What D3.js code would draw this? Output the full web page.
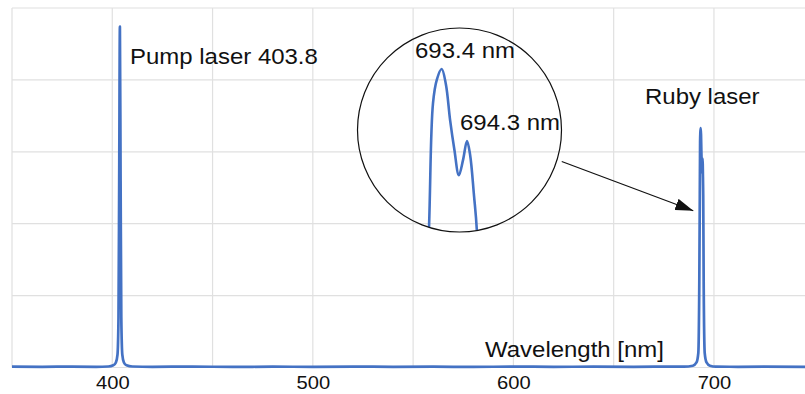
<!DOCTYPE html>
<html lang="en">
<head>
  <meta charset="UTF-8" />
  <title>Ruby laser spectrum</title>
  <script src="https://d3js.org/d3.v7.min.js"></script>
  <style>
    html, body {
      margin: 0;
      padding: 0;
      background-color: #fff;
      overflow: hidden;
    }
    svg {
      display: block;
      font-family: 'Liberation Sans', Arial, sans-serif;
    }
  </style>
</head>
<body>
  <svg width="805" height="394"></svg>

  <script>
    // spectrum (wavelength in nm, intensity in arbitrary units)
    const wavelengths = [
      350, 365, 380, 392, 398, 400.5, 401.8, 402.6, 403.1, 403.45, 403.8, 404.15, 404.5, 405.0, 405.8, 407.1, 410,
      420, 440, 460, 480, 500, 520, 540, 560, 580, 600, 620, 640, 660, 675, 685, 689.5,
      691.3, 692.2, 692.7, 692.95, 693.09, 693.23, 693.4, 693.55, 693.7, 693.85, 694.01, 694.16,
      694.3, 694.41, 694.55, 694.65, 694.9, 695.4, 696.3, 698, 701, 712, 725, 745.4
    ];
    const intensities = [
      0.012, 0.010, 0.012, 0.010, 0.014, 0.03, 0.07, 0.18, 0.7, 2.6, 4.74, 2.6, 0.7, 0.18, 0.07, 0.03, 0.014,
      0.010, 0.012, 0.009, 0.011, 0.010, 0.012, 0.010, 0.011, 0.009, 0.012, 0.010, 0.011, 0.010, 0.012, 0.012, 0.025,
      0.07, 0.2, 1.2, 2.41, 3.13, 3.27, 3.33, 3.24, 3.03, 2.86, 2.71, 2.80,
      2.91, 2.83, 2.59, 2.39, 1.1, 0.2, 0.07, 0.025, 0.012, 0.010, 0.011, 0.010
    ];
    const xTicks = [400, 500, 600, 700];
    const xGrid = [350, 400, 450, 500, 550, 600, 650, 700];
    const yGrid = [0, 1, 2, 3, 4, 5];
    const peakLabels = ["693.4 nm", "694.3 nm"];

    const svg = d3.select("svg");
    const blue = "#4472c4";
    const grid = "#e0e0e0";
    const stretch = 1.09; // the glyphs in the picture are a little wider than Arial

    const x = d3.scaleLinear().domain([350, 745.4]).range([12, 805]);
    const y = d3.scaleLinear().domain([0, 5]).range([367.5, 8]);

    const data = wavelengths.map((w, i) => ({ w: w, v: intensities[i] }));

    // grid
    svg.append("g").selectAll("line")
      .data(xGrid).enter().append("line")
      .attr("x1", d => x(d)).attr("x2", d => x(d))
      .attr("y1", y(5)).attr("y2", y(0))
      .attr("stroke", grid).attr("stroke-width", 1.2);
    svg.append("g").selectAll("line")
      .data(yGrid).enter().append("line")
      .attr("x1", x(350)).attr("x2", 805)
      .attr("y1", d => y(d)).attr("y2", d => y(d))
      .attr("stroke", grid).attr("stroke-width", 1.2);

    // x axis labels
    const axis = svg.append("g")
      .attr("transform", `translate(0,${y(0)})`)
      .call(d3.axisBottom(x).tickValues(xTicks).tickSize(0));
    axis.select(".domain").remove();
    axis.selectAll("text")
      .attr("y", 22).attr("dy", 0)
      .attr("transform", "scale(1.12,1)")
      .style("font-family", "'Liberation Sans', Arial, sans-serif")
      .style("font-size", "18px")
      .style("fill", "#111");

    // spectrum
    const line = d3.line().x(d => x(d.w)).y(d => y(d.v)).curve(d3.curveMonotoneX);
    svg.append("path")
      .datum(data)
      .attr("d", line)
      .attr("fill", "none")
      .attr("stroke", blue)
      .attr("stroke-width", 2.7)
      .attr("stroke-linejoin", "round");

    function label(text, px, py, size, anchor) {
      svg.append("text")
        .attr("transform", `translate(${px},${py}) scale(${stretch},1)`)
        .attr("text-anchor", anchor || "start")
        .style("font-size", size + "px")
        .style("fill", "#111")
        .text(text);
    }

    label("Pump laser 403.8", 130, 63.5, 22);
    label("Ruby laser", 645, 103.5, 22);
    label("Wavelength [nm]", 485, 357, 22);

    // magnified inset of the ruby doublet
    const cx = 459.5, cy = 130, r = 102;
    const ix = d3.scaleLinear().domain([693.4, 694.3]).range([441.7, 467]);
    const iy = d3.scaleLinear().domain([3.33, 2.91]).range([69, 141]);

    svg.append("clipPath").attr("id", "lens")
      .append("circle").attr("cx", cx).attr("cy", cy).attr("r", r);

    const insetLine = d3.line().x(d => ix(d.w)).y(d => iy(d.v)).curve(d3.curveCatmullRom);
    svg.append("path")
      .datum(data.filter(d => d.w > 692 && d.w < 696))
      .attr("d", insetLine)
      .attr("clip-path", "url(#lens)")
      .attr("fill", "none")
      .attr("stroke", blue)
      .attr("stroke-width", 2.6)
      .attr("stroke-linejoin", "round");

    svg.append("circle")
      .attr("cx", cx).attr("cy", cy).attr("r", r)
      .attr("fill", "none")
      .attr("stroke", "#111")
      .attr("stroke-width", 1.2);

    label(peakLabels[0], 415, 57.5, 22);
    label(peakLabels[1], 460, 129.5, 22);

    // arrow from the lens to the ruby peak
    svg.append("defs").append("marker")
      .attr("id", "head")
      .attr("viewBox", "0 0 18 12")
      .attr("refX", 18).attr("refY", 6)
      .attr("markerWidth", 18).attr("markerHeight", 12)
      .attr("markerUnits", "userSpaceOnUse")
      .attr("orient", "auto")
      .append("path")
      .attr("d", "M0,0 L18,6 L0,12 Z")
      .attr("fill", "#111");

    const ang = Math.atan2(31.7, 102.8);
    svg.append("line")
      .attr("x1", cx + (r + 5) * Math.cos(ang))
      .attr("y1", cy + (r + 5) * Math.sin(ang))
      .attr("x2", x(689.7))
      .attr("y2", y(2.18))
      .attr("stroke", "#111")
      .attr("stroke-width", 1.2)
      .attr("marker-end", "url(#head)");
  </script>
</body>
</html>
